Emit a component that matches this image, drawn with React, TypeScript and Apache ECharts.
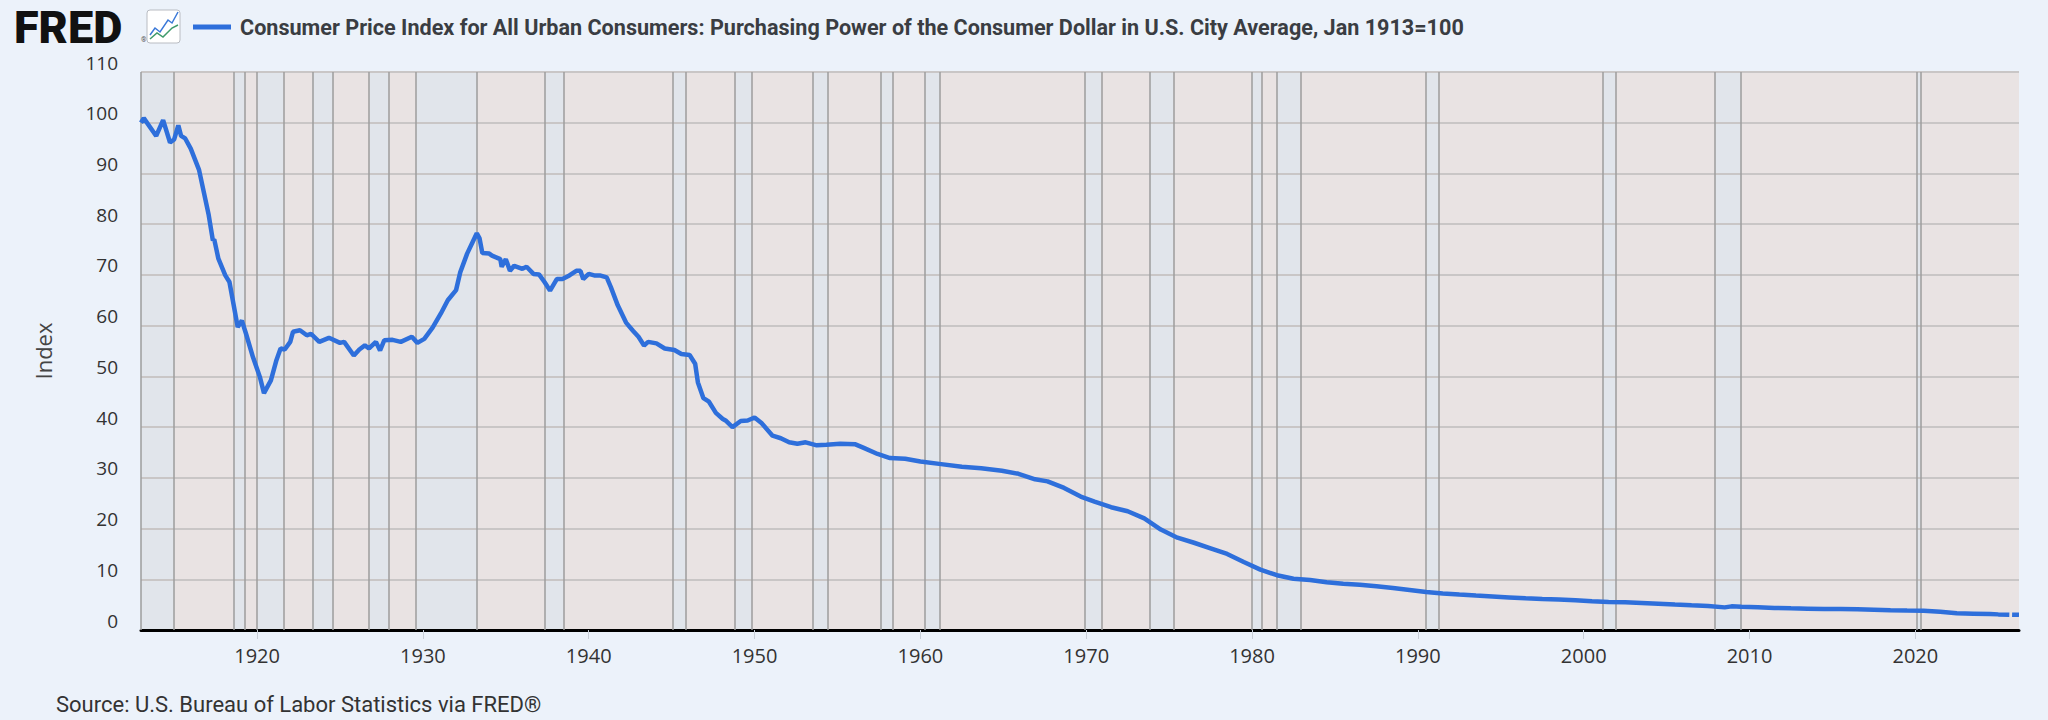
import { useEffect, useRef } from "react";
import * as echarts from "echarts";

const TITLE =
  "Consumer Price Index for All Urban Consumers: Purchasing Power of the Consumer Dollar in U.S. City Average, Jan 1913=100";
const SOURCE = "Source: U.S. Bureau of Labor Statistics via FRED®";

const BLUE = "#2E6FDB";
const INK = "#333333";
const PAGE = "#ECF2FA";

// 1913–1949 (one line per year in both arrays)
const DATES_EARLY = [
  "1913-01", "1913-03", "1913-12",
  "1914-05", "1914-10",
  "1915-01", "1915-04", "1915-06", "1915-09",
  "1916-01", "1916-07",
  "1917-02", "1917-05", "1917-06", "1917-09",
  "1918-02", "1918-05", "1918-11",
  "1919-02", "1919-05", "1919-10",
  "1920-03", "1920-06", "1920-11",
  "1921-03", "1921-06", "1921-09",
  "1922-01", "1922-03", "1922-08",
  "1923-01", "1923-04", "1923-10",
  "1924-05",
  "1925-01", "1925-04", "1925-11",
  "1926-03", "1926-07", "1926-10",
  "1927-03", "1927-06", "1927-09",
  "1928-03", "1928-09",
  "1929-05", "1929-09",
  "1930-02", "1930-08",
  "1931-02", "1931-07",
  "1932-01", "1932-04", "1932-09",
  "1933-01", "1933-04", "1933-06", "1933-08",
  "1934-01", "1934-03", "1934-09", "1934-10",
  "1935-01", "1935-04", "1935-07",
  "1936-01", "1936-04", "1936-09",
  "1937-01", "1937-05", "1937-09",
  "1938-02", "1938-06", "1938-11",
  "1939-04", "1939-07", "1939-09",
  "1940-01", "1940-05", "1940-09",
  "1941-02", "1941-05", "1941-10",
  "1942-04", "1942-09",
  "1943-01", "1943-05", "1943-08",
  "1944-02", "1944-08",
  "1945-03", "1945-08",
  "1946-02", "1946-06", "1946-08", "1946-12",
  "1947-04", "1947-09",
  "1948-02", "1948-04", "1948-09",
  "1949-03", "1949-08",
];
const PP_EARLY = [
  100.0, 100.9, 97.4,
  100.5, 96.1,
  96.7, 99.5, 97.4, 96.9,
  94.9, 90.7,
  81.8, 76.8, 77.0, 73.2,
  69.9, 68.6, 59.7,
  61.0, 58.4, 53.8,
  49.9, 46.7, 49.2,
  53.2, 55.5, 55.3,
  56.8, 58.8, 59.1,
  58.1, 58.4, 56.8,
  57.6,
  56.6, 56.8, 54.1,
  55.3, 56.1, 55.5,
  56.8, 55.1, 57.1,
  57.2, 56.8,
  57.8, 56.6,
  57.4, 59.6,
  62.4, 65.0,
  67.0, 70.5, 74.2,
  76.5, 78.2, 77.2, 74.3,
  74.2, 73.8, 73.1, 71.6,
  73.1, 70.8, 71.8,
  71.2, 71.6, 70.2,
  70.1, 68.6, 66.9,
  69.2, 69.2, 69.9,
  70.8, 70.8, 69.2,
  70.2, 69.9, 69.9,
  69.5, 67.6, 64.0,
  60.6, 59.0,
  57.8, 56.1, 56.8,
  56.5, 55.5,
  55.2, 54.4,
  54.2, 52.5, 48.8, 45.7,
  45.0, 42.8,
  41.6, 41.3, 40.0,
  41.2, 41.3,
];

// 1950–1969
const DATES_MID = [
  "1950-01", "1950-06", "1951-02", "1951-08", "1952-02", "1952-08", "1953-02", "1953-10",
  "1954-05", "1955-03", "1956-02", "1956-08", "1957-06", "1958-03", "1959-02", "1960-01",
  "1961-04", "1962-07", "1963-09", "1964-12", "1965-12", "1966-12", "1967-09", "1968-09",
  "1969-09",
];
const PP_MID = [
  41.9, 40.8, 38.3, 37.8, 37.0, 36.7, 37.0, 36.4,
  36.5, 36.7, 36.6, 35.9, 34.7, 33.9, 33.75, 33.2,
  32.7, 32.2, 31.9, 31.4, 30.8, 29.7, 29.3, 28.0,
  26.3,
];

// 1970–2026 (Oct 2025 has no observation)
const DATES_LATE = [
  "1970-07", "1971-07", "1972-07", "1973-07", "1974-07", "1975-07", "1976-07", "1977-07",
  "1978-07", "1979-07", "1980-07", "1981-07", "1982-07", "1983-07", "1984-07", "1985-07",
  "1986-07", "1987-07", "1988-07", "1989-07", "1990-07", "1991-07", "1992-07", "1993-07",
  "1994-07", "1995-07", "1996-07", "1997-07", "1998-07", "1999-07", "2000-07", "2001-07",
  "2002-07", "2003-07", "2004-07", "2005-07", "2006-07", "2007-07", "2008-07", "2008-12",
  "2009-07", "2010-07", "2011-07", "2012-07", "2013-07", "2014-07", "2015-07", "2016-07",
  "2017-07", "2018-07", "2019-07", "2020-07", "2021-07", "2022-07", "2023-07", "2024-07",
  "2025-01", "2025-09", "2025-10", "2025-11", "2026-04",
];
const PP_LATE = [
  25.3, 24.2, 23.4, 22.0, 19.8, 18.2, 17.2, 16.1,
  15.0, 13.4, 11.9, 10.8, 10.1, 9.84, 9.43, 9.11,
  8.94, 8.63, 8.28, 7.9, 7.5, 7.2, 6.98, 6.78,
  6.61, 6.43, 6.25, 6.11, 6.01, 5.88, 5.69, 5.53,
  5.45, 5.33, 5.19, 5.02, 4.86, 4.73, 4.46, 4.66,
  4.57, 4.49, 4.36, 4.27, 4.21, 4.14, 4.13, 4.08,
  4.0, 3.9, 3.83, 3.79, 3.59, 3.29, 3.22, 3.13,
  3.08, 3.02, null, 3.02, 2.99,
];

// NBER recessions, peak month to trough month
const RECESSIONS = [
  ["1913-01", "1914-12"], ["1918-08", "1919-03"], ["1920-01", "1921-07"], ["1923-05", "1924-07"],
  ["1926-10", "1927-11"], ["1929-08", "1933-03"], ["1937-05", "1938-06"], ["1945-02", "1945-10"],
  ["1948-11", "1949-10"], ["1953-07", "1954-05"], ["1957-08", "1958-04"], ["1960-04", "1961-02"],
  ["1969-12", "1970-11"], ["1973-11", "1975-03"], ["1980-01", "1980-07"], ["1981-07", "1982-11"],
  ["1990-07", "1991-03"], ["2001-03", "2001-11"], ["2007-12", "2009-06"], ["2020-02", "2020-04"],
];

const X_TICKS = [1920, 1930, 1940, 1950, 1960, 1970, 1980, 1990, 2000, 2010, 2020];

const toYear = (d: string) => {
  const [y, m] = d.split("-").map(Number);
  return y + (m - 1) / 12;
};

export default function App() {
  const ref = useRef<HTMLDivElement>(null);

  useEffect(() => {
    document.body.style.margin = "0";
    document.body.style.background = PAGE;
    if (!ref.current) return;
    const chart = echarts.init(ref.current, null, { renderer: "svg" });

    const dates = [...DATES_EARLY, ...DATES_MID, ...DATES_LATE];
    const values = [...PP_EARLY, ...PP_MID, ...PP_LATE];
    const data = dates.map((d, i) => [toYear(d), values[i]]);
    const edges: number[] = [];
    RECESSIONS.forEach(([a, b]) => edges.push(toYear(a), toYear(b) + 1 / 12));

    chart.setOption({
      animation: false,
      textStyle: { fontFamily: "Roboto, sans-serif" },
      grid: { left: 141, right: 29, top: 72, bottom: 90, show: true, backgroundColor: "#E9E3E3", borderWidth: 0 },
      legend: {
        left: 193,
        top: 16,
        padding: 0,
        icon: "rect",
        itemWidth: 38,
        itemHeight: 5,
        selectedMode: false,
        textStyle: { fontFamily: "Roboto", fontWeight: "bold", fontSize: 21.6, color: "#3A3D42", padding: [0, 0, 0, 4] },
      },
      xAxis: {
        type: "value",
        min: toYear(dates[0]),
        max: toYear(dates[dates.length - 1]),
        z: 2,
        splitLine: { show: false },
        axisLine: { lineStyle: { color: "#000", width: 3 } },
        axisTick: { show: true, length: 9, customValues: X_TICKS, lineStyle: { color: "#C9CFD8" } },
        axisLabel: {
          customValues: X_TICKS,
          formatter: (v: number) => String(v),
          margin: 15,
          fontFamily: "Open Sans",
          fontSize: 20,
          color: INK,
        },
      },
      yAxis: {
        type: "value",
        min: 0,
        max: 110,
        interval: 10,
        z: 2,
        name: "Index",
        nameLocation: "middle",
        nameRotate: 90,
        nameGap: 87,
        nameTextStyle: { fontFamily: "Open Sans", fontSize: 22, color: "#444" },
        axisLine: { show: false },
        axisTick: { show: false },
        axisLabel: { margin: 23, verticalAlign: "bottom", fontFamily: "Open Sans", fontSize: 19, color: INK },
        splitLine: { lineStyle: { color: "#C9C6C6", width: 2 } },
      },
      graphic: [
        {
          type: "text",
          left: 14,
          top: 5,
          style: { text: "FRED", fontFamily: "Roboto", fontWeight: 900, fontSize: 45, lineHeight: 40, fill: "#111" },
        },
        { type: "text", left: 141, top: 36, style: { text: "®", fontFamily: "Roboto", fontSize: 7, fill: "#555" } },
        { type: "rect", shape: { x: 147, y: 10, width: 33, height: 33, r: 3 }, style: { fill: "#fff", stroke: "#B9BCC2", lineWidth: 1 } },
        {
          type: "polyline",
          shape: { points: [[150, 35], [155, 28], [160, 32], [168, 20], [172, 23], [178, 12]] },
          style: { stroke: "#3A78D8", lineWidth: 1.5, fill: "none" },
        },
        {
          type: "polyline",
          shape: { points: [[150, 39], [157, 33], [163, 37], [172, 28], [178, 25]] },
          style: { stroke: "#3E9A6B", lineWidth: 1.5, fill: "none" },
        },
        { type: "text", left: 56, top: 693, style: { text: SOURCE, fontFamily: "Roboto", fontSize: 22, fill: INK } },
      ],
      series: [
        {
          name: TITLE,
          type: "line",
          z: 3,
          data,
          showSymbol: false,
          connectNulls: false,
          lineStyle: { color: BLUE, width: 4.5 },
          itemStyle: { color: BLUE },
          markArea: {
            silent: true,
            z: 1,
            itemStyle: { color: "#E1E5EB" },
            data: RECESSIONS.map(([a, b]) => [{ xAxis: toYear(a) }, { xAxis: toYear(b) + 1 / 12 }]),
          },
          markLine: {
            silent: true,
            z: 2.5,
            symbol: "none",
            label: { show: false },
            lineStyle: { color: "#9C9C9C", width: 1.5, type: "solid" },
            data: edges.map((x) => ({ xAxis: x })),
          },
        },
      ],
    });

    return () => chart.dispose();
  }, []);

  return <div ref={ref} style={{ width: 2048, height: 720, background: PAGE }} />;
}
